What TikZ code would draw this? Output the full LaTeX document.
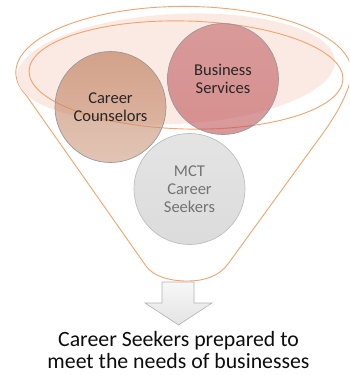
\documentclass[tikz,border=0pt]{standalone}
\usepackage{fontspec}
\setmainfont{Carlito}
\usetikzlibrary{positioning}
\definecolor{funnelline}{HTML}{F5A26B}
\definecolor{funnelfill}{HTML}{FBEAE3}
\definecolor{counselA}{HTML}{B8724F}
\definecolor{counselB}{HTML}{CF9D82}
\definecolor{businessA}{HTML}{C36569}
\definecolor{businessB}{HTML}{BD5457}
\definecolor{seekerA}{HTML}{D2D2D2}
\definecolor{seekerB}{HTML}{C4C4C4}
\tikzset{
    funnel/.style={draw=funnelline, line width=0.9pt},
    ball/.style={
        circle,
        draw=black!40,
        line width=0.7pt,
        minimum size=111pt,
        inner sep=0pt,
        align=center,
        text=black!85,
        fill opacity=0.6,
        text opacity=1,
        font=\fontsize{16.5}{18}\selectfont
    },
    blockarrow/.style={
        top color=black!3,
        bottom color=black!11,
        draw=black!30,
        line width=0.6pt,
        line join=miter
    },
    result/.style={
        align=center,
        inner sep=0pt,
        text=black!95,
        font=\fontsize{21.8}{22}\selectfont
    }
}

\begin{document}
\begin{tikzpicture}[x=1pt, y=-1pt]
    \useasboundingbox (0,0) rectangle (349,375);
    \clip (0,0) rectangle (349,375);
    % funnel
    \draw[funnel] (26,95) arc[start angle=160, end angle=368, x radius=168, y radius=66]
        .. controls (345,100) and (333,120) .. (318,140) -- (228,264)
        .. controls (219,276) and (205,281) .. (187,281)
        .. controls (169,281) and (153,276) .. (146,266) -- cycle;
    \fill[funnelfill, rotate around={3:(176,69)}] (176,69) ellipse[x radius=159, y radius=55];
    \draw[funnel, rotate around={-1.5:(186,75)}] (186,75) ellipse[x radius=157, y radius=54];

    \node[ball, top color=counselA, bottom color=counselB] (counselors) at (110.5,107) {Career\\Counselors};
    \node[ball, top color=businessA, bottom color=businessB] (business) at (223,79) {Business\\Services};
    \node[ball, top color=seekerA, bottom color=seekerB, draw=black!25, text=black!55] (seekers) at (189.5,189) {MCT\\Career\\Seekers};

    \draw[blockarrow] (162,282) -- (194,282) -- (194,303) -- (212,303) -- (178.5,325)
        -- (145,303) -- (162,303) -- cycle;
    \coordinate (tip) at (178.5,325);
    \node[result, below=6pt of tip] (outcome) {Career Seekers prepared to\\meet the needs of businesses};
\end{tikzpicture}
\end{document}
